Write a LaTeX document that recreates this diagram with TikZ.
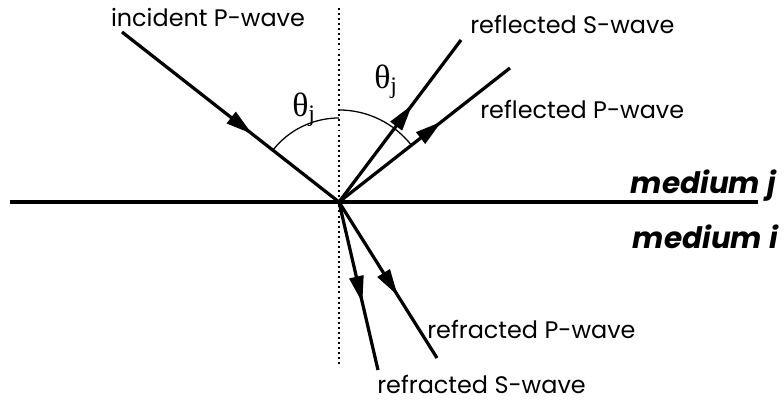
\documentclass[tikz,border=0pt]{standalone}
\usepackage{fontspec}
\setmainfont{Poppins}
\newfontfamily\greekfont{Liberation Serif}
\usepackage{tikz}
\usetikzlibrary{arrows.meta, decorations.markings}
\definecolor{myink}{RGB}{0,0,0}
\tikzset{
  ray/.style={line width=2.3pt, color=myink, postaction={decorate},
    decoration={markings, mark=at position 0.6 with {\arrow{Triangle[length=19pt, width=10pt]}}}},
  boundary/.style={line width=3.4pt, color=myink},
  normalline/.style={line width=1.4pt, dash pattern=on 1.4pt off 2.2pt, color=myink},
  anglearc/.style={line width=0.9pt, color=myink},
  wavelabel/.style={font=\fontsize{17}{20}\selectfont, inner sep=0pt},
  medlabel/.style={font=\fontsize{21}{24}\selectfont\bfseries\itshape, inner sep=0pt},
  thetalabel/.style={font=\fontsize{24}{28}\selectfont\greekfont, inner sep=0pt}
}

\begin{document}
\begin{tikzpicture}[x=0.025cm, y=-0.025cm]
  \useasboundingbox (0,0) rectangle (784,403);

  % Interface and normal
  \coordinate (O) at (339,202);
  \coordinate (L) at (10,202);
  \coordinate (R) at (758,202);
  \coordinate (N1) at (339,8);
  \coordinate (N2) at (339,366);
  \draw[normalline] (N1) -- (N2);
  \draw[boundary] (L) -- (R);

  % Angle arcs
  \draw[anglearc] (O) ++(141.9:2.1cm) arc[start angle=141.9, end angle=90, radius=2.1cm];
  \draw[anglearc] (O) ++(90:2.3cm) arc[start angle=90, end angle=37.9, radius=2.3cm];

  % Rays
  \coordinate (inc) at (122,32);
  \coordinate (rS) at (461,40);
  \coordinate (rP) at (510,68);
  \coordinate (tP) at (437,358);
  \coordinate (tS) at (378,370);
  \draw[ray] (inc) -- (O);
  \draw[ray] (O) -- (rS);
  \draw[ray] (O) -- (rP);
  \draw[ray] (O) -- (tP);
  \draw[ray] (O) -- (tS);

  % Labels
  \node[wavelabel, anchor=base] (incL) at (208,26) {incident P-wave};
  \node[wavelabel, anchor=base west] (rSL) at (470,33) {reflected S-wave};
  \node[wavelabel, anchor=base west] (rPL) at (480,118) {reflected P-wave};
  \node[wavelabel, anchor=base west] (tPL) at (427,338) {refracted P-wave};
  \node[wavelabel, anchor=base west] (tSL) at (377,393) {refracted S-wave};
  \node[medlabel, anchor=base east] (medj) at (776,193) {medium j};
  \node[medlabel, anchor=base east] (medi) at (778,248) {medium i};
  \node[thetalabel] (thL) at (304,110) {θ\textsubscript{j}};
  \node[thetalabel] (thR) at (386,82) {θ\textsubscript{j}};
\end{tikzpicture}
\end{document}
